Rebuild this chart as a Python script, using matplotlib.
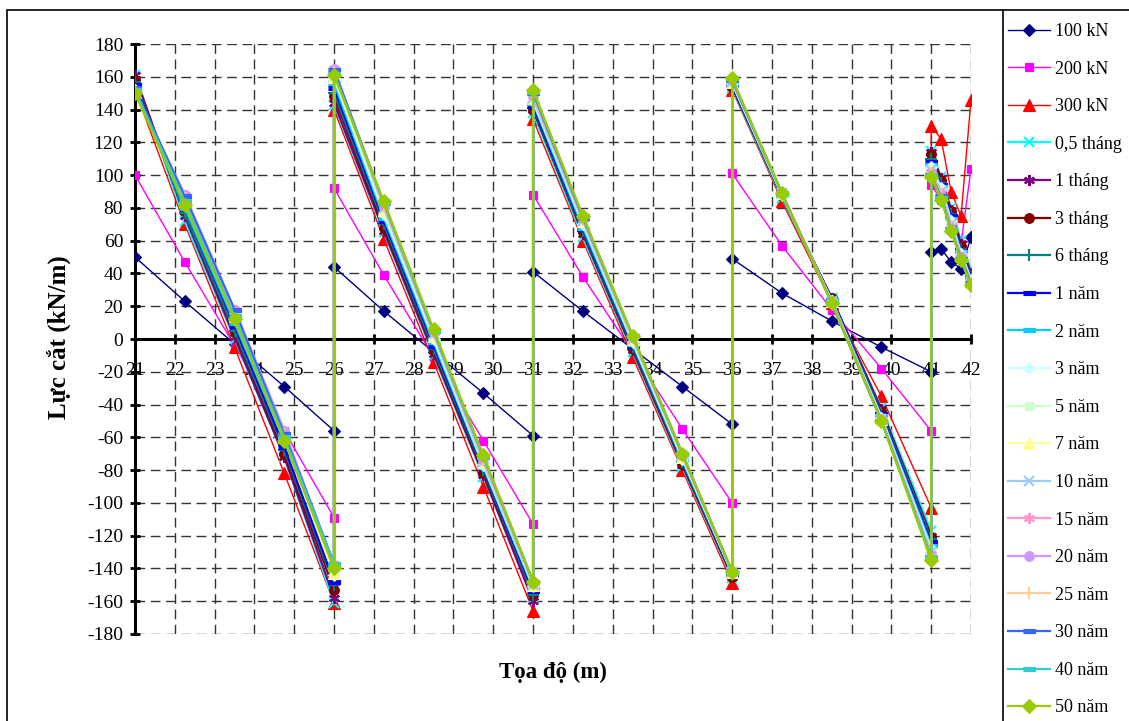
import matplotlib.pyplot as plt
from matplotlib.lines import Line2D
from matplotlib.patches import Rectangle

plt.rcParams['font.family'] = ['Liberation Serif', 'DejaVu Serif']
plt.rcParams['axes.unicode_minus'] = False

# toa do (m) - diem noi tiep co hai gia tri luc cat
toa_do = [21, 22.25, 23.5, 24.75, 26, 26, 27.25, 28.5, 29.75, 31, 31, 32.25, 33.5, 34.75,
          36, 36, 37.25, 38.5, 39.75, 41, 41, 41.25, 41.5, 41.75, 42]

ten_chuoi = ["100 kN", "200 kN", "300 kN", "0,5 tháng", "1 tháng", "3 tháng", "6 tháng",
             "1 năm", "2 năm", "3 năm", "5 năm", "7 năm", "10 năm", "15 năm", "20 năm",
             "25 năm", "30 năm", "40 năm", "50 năm"]

q_100kN = [50, 23, -3, -29, -56, 44, 17, -8, -33, -59, 41, 17, -6, -29, -52, 49, 28, 11, -5, -20, 53, 55, 47, 43, 62]
q_200kN = [100, 47, -4, -56, -109, 92, 39, -11, -62, -113, 88, 38, -8, -55, -100, 101, 57, 18, -18, -56, 94, 85, 72, 58, 104]
q_300kN = [152, 70, -5, -82, -161, 140, 61, -14, -90, -166, 134, 60, -11, -80, -149, 152, 84, 22, -35, -103, 130, 122, 90, 75, 146]
q_05thang = [161, 72, 0, -72, -161, 143, 65, -10, -84, -158, 138, 62, -8, -78, -146, 153, 86, 25, -42, -117, 115, 99, 80, 60, 42]
q_1thang = [161, 75, 1, -72, -158, 144, 66, -9, -83, -160, 140, 64, -7, -77, -145, 154, 87, 25, -43, -120, 114, 98, 79, 58, 40]
q_3thang = [158, 78, 4, -70, -153, 148, 68, -7, -82, -156, 140, 65, -6, -76, -145, 154, 87, 25, -44, -121, 113, 97, 78, 57, 39]
q_6thang = [157, 77, 5, -68, -150, 150, 70, -6, -80, -156, 141, 66, -5, -75, -144, 155, 87, 24, -45, -122, 110, 95, 76, 55, 38]
q_1nam = [155, 80, 8, -66, -148, 153, 72, -4, -79, -154, 142, 67, -4, -74, -144, 155, 88, 24, -46, -124, 108, 94, 75, 54, 38]
q_2nam = [153, 80, 10, -62, -137, 156, 74, -2, -78, -152, 144, 68, -3, -74, -143, 156, 88, 24, -47, -126, 106, 93, 73, 53, 37]
q_3nam = [152, 83, 12, -60, -144, 159, 76, 0, -77, -151, 145, 70, -2, -73, -143, 156, 88, 23, -48, -128, 105, 92, 72, 52, 36]
q_5nam = [151, 86, 15, -58, -140, 162, 78, 1, -76, -150, 146, 71, -1, -72, -143, 157, 88, 23, -48, -129, 104, 91, 71, 52, 36]
q_7nam = [151, 84, 14, -60, -143, 160, 79, 2, -75, -150, 147, 72, 0, -72, -142, 157, 89, 23, -49, -130, 103, 90, 70, 51, 35]
q_10nam = [151, 86, 15, -58, -139, 163, 80, 3, -75, -150, 147, 72, 0, -71, -142, 157, 89, 23, -49, -130, 103, 90, 70, 51, 35]
q_15nam = [150, 88, 18, -56, -138, 165, 81, 4, -74, -149, 148, 73, 1, -71, -142, 158, 89, 23, -49, -131, 102, 89, 69, 50, 35]
q_20nam = [151, 88, 18, -56, -138, 165, 82, 4, -73, -149, 149, 74, 1, -71, -142, 158, 89, 22, -50, -132, 101, 88, 68, 50, 34]
q_25nam = [150, 86, 16, -58, -141, 163, 82, 5, -73, -149, 149, 74, 1, -70, -142, 158, 89, 22, -50, -132, 101, 88, 68, 49, 34]
q_30nam = [153, 87, 18, -58, -137, 164, 83, 5, -72, -148, 150, 74, 2, -70, -142, 158, 89, 22, -50, -133, 100, 87, 67, 49, 34]
q_40nam = [152, 84, 14, -60, -137, 162, 83, 5, -72, -148, 151, 75, 2, -70, -142, 159, 89, 22, -50, -133, 100, 86, 67, 48, 33]
q_50nam = [150, 82, 12, -62, -140, 161, 84, 6, -71, -148, 152, 75, 2, -70, -142, 159, 89, 22, -50, -135, 99, 85, 66, 48, 33]

cac_chuoi = [q_100kN, q_200kN, q_300kN, q_05thang, q_1thang, q_3thang, q_6thang, q_1nam,
             q_2nam, q_3nam, q_5nam, q_7nam, q_10nam, q_15nam, q_20nam, q_25nam, q_30nam,
             q_40nam, q_50nam]

dash = [(-1, -0.3), (1, -0.3), (1, 0.3), (-1, 0.3)]
star = (6, 2, 0)
mau = ['#000080', '#FF00FF', '#FF0000', '#00FFFF', '#800080', '#800000', '#008080',
       '#0000FF', '#00CCFF', '#CCFFFF', '#CCFFCC', '#FFFF99', '#99CCFF', '#FF99CC',
       '#CC99FF', '#FFCC99', '#3366FF', '#33CCCC', '#99CC00']
ky_hieu = ['D', 's', '^', 'x', star, 'o', '+', dash, dash, 'D', 's', '^', 'x', star,
           'o', '+', dash, dash, 'D']
co_ky_hieu = [6, 6, 8, 7, 8, 7, 8, 8, 8, 6, 6, 8, 7, 8, 7, 8, 8, 8, 7]

fig = plt.figure(figsize=(11.29, 7.21), dpi=100)
ax = fig.add_axes([135 / 1129, 1 - 634 / 721, (971 - 135) / 1129, (634 - 44) / 721])

for i, (q, ten) in enumerate(zip(cac_chuoi, ten_chuoi)):
    lw = 1.0 if i < 3 else 1.6
    mew = 1.5 if ky_hieu[i] in ('x', '+', star) else 0.8
    ax.plot(toa_do, q, color=mau[i], marker=ky_hieu[i], ms=co_ky_hieu[i], lw=lw,
            mew=mew, mec=mau[i], mfc=mau[i], label=ten, zorder=3 + i * 0.01)

ax.set_xlim(21, 42)
ax.set_ylim(-180, 180)
ax.set_xticks(range(21, 43))
ax.set_yticks(range(-180, 181, 20))
ax.grid(True, color='0.2', lw=1.0, linestyle=(0, (7, 4)))
ax.set_axisbelow(True)

for s in ['top', 'right']:
    ax.spines[s].set_visible(False)
ax.spines['bottom'].set_position(('data', 0))
ax.spines['bottom'].set_linewidth(2.2)
ax.spines['left'].set_linewidth(2.2)
ax.spines['bottom'].set_zorder(2.5)
ax.spines['left'].set_zorder(2.5)
ax.tick_params(axis='x', direction='inout', length=7, width=2, pad=13, labelsize=14)
ax.tick_params(axis='y', direction='inout', length=7, width=2, pad=5, labelsize=14)
for t in ax.get_xticklabels():
    t.set_bbox(dict(facecolor='white', edgecolor='none', pad=0.5))

fig.text(59 / 1129, 1 - 337 / 721, "Lực cắt (kN/m)", rotation=90, ha='center', va='center',
         fontsize=18, fontweight='bold')
fig.text(553 / 1129, 1 - 672 / 721, "Tọa độ (m)", ha='center', va='center',
         fontsize=16.5, fontweight='bold')

# khung bieu do va khung chu thich
fig.patches.append(Rectangle((7 / 1129, -0.1), 1.2, 1 - 10 / 721 + 0.1, transform=fig.transFigure,
                             fill=False, edgecolor='black', lw=1.2))
fig.lines.append(Line2D([1003 / 1129, 1003 / 1129], [-0.1, 1 - 10 / 721], transform=fig.transFigure,
                        color='black', lw=1.2))

handles, labels = ax.get_legend_handles_labels()
fig.legend(handles, labels, loc='upper left', bbox_to_anchor=(1008 / 1129, 1 - 23 / 721),
           frameon=False, fontsize=13, borderpad=0, borderaxespad=0, labelspacing=1.14,
           handlelength=2.3, handletextpad=0.3)

fig.savefig('out.png', dpi=100)
